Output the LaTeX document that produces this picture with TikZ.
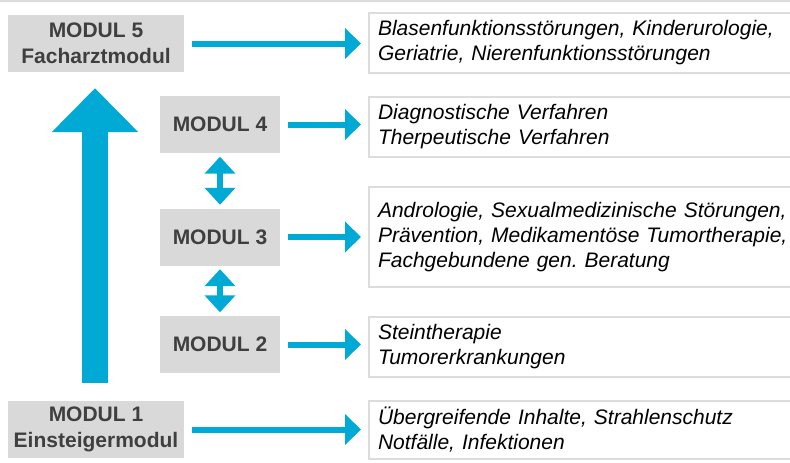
\documentclass[tikz,border=0pt]{standalone}
\usepackage{fontspec}
\setmainfont{Liberation Sans}
\usetikzlibrary{arrows.meta}
\definecolor{modgray}{HTML}{D9D9D9}
\definecolor{framegray}{HTML}{DCDCDC}
\definecolor{modtext}{HTML}{3F3F3F}
\definecolor{pfeilblau}{HTML}{00AAD4}
\frenchspacing
\begin{document}
\begin{tikzpicture}[x=1pt,y=-1pt,
  modul/.style={fill=modgray,text=modtext,font=\fontsize{21}{25.5}\selectfont\bfseries,
    align=center,inner sep=0pt,minimum height=57pt},
  inhalt/.style={draw=framegray,line width=2pt,anchor=west,align=left,
    text width=430pt,inner xsep=9pt,inner ysep=0pt,
    font=\fontsize{21}{25}\selectfont\itshape},
  pfeil/.style={draw=pfeilblau,line width=6pt,-{Triangle[length=16pt,width=30pt]},
    shorten <=8pt,shorten >=7pt},
  doppelpfeil/.style={draw=pfeilblau,line width=6pt,
    {Triangle[length=17pt,width=30pt]}-{Triangle[length=17pt,width=30pt]},
    shorten <=3.5pt,shorten >=3.5pt}]
\useasboundingbox (0,0) rectangle (790,463);
\clip (0,0) rectangle (790,463);
\draw[framegray,line width=2.5pt] (0,1) -- (790,1);
% Module
\node[modul,minimum width=176pt] (m5) at (96,43.5) {MODUL 5\\Facharztmodul};
\node[modul,minimum width=120pt] (m4) at (220,124.5) {MODUL 4};
\node[modul,minimum width=120pt] (m3) at (220,237) {MODUL 3};
\node[modul,minimum width=120pt] (m2) at (220,344.5) {MODUL 2};
\node[modul,minimum width=176pt] (m1) at (96,429.5) {MODUL 1\\Einsteigermodul};
% Inhalte
\node[inhalt,minimum height=60pt] (t5) at (368,43)
  {Blasenfunktionsstörungen, Kinderurologie,\\Geriatrie, Nierenfunktionsstörungen};
\node[inhalt,minimum height=60pt] (t4) at (368,127)
  {Diagnostische Verfahren\\Therpeutische Verfahren};
\node[inhalt,minimum height=100pt] (t3) at (368,237)
  {Andrologie, Sexualmedizinische Störungen,\\Prävention, Medikamentöse Tumortherapie,\\Fachgebundene gen. Beratung};
\node[inhalt,minimum height=60pt] (t2) at (368,347)
  {Steintherapie\\Tumorerkrankungen};
\node[inhalt,minimum height=58pt] (t1) at (368,429.5)
  {Übergreifende Inhalte, Strahlenschutz\\Notfälle, Infektionen};
% Pfeile
\foreach \m/\t in {m5/t5,m4/t4,m3/t3,m2/t2,m1/t1}
  \draw[pfeil] (\m.east) -- (\m.east -| \t.west);
\draw[doppelpfeil] (m4.south) -- (m3.north);
\draw[doppelpfeil] (m3.south) -- (m2.north);
\draw[pfeilblau,line width=26pt,-{Triangle[length=44pt,width=84pt]},
  shorten <=18pt,shorten >=16pt] (m1.north -| 95,0) -- (m5.south -| 95,0);
\end{tikzpicture}
\end{document}
